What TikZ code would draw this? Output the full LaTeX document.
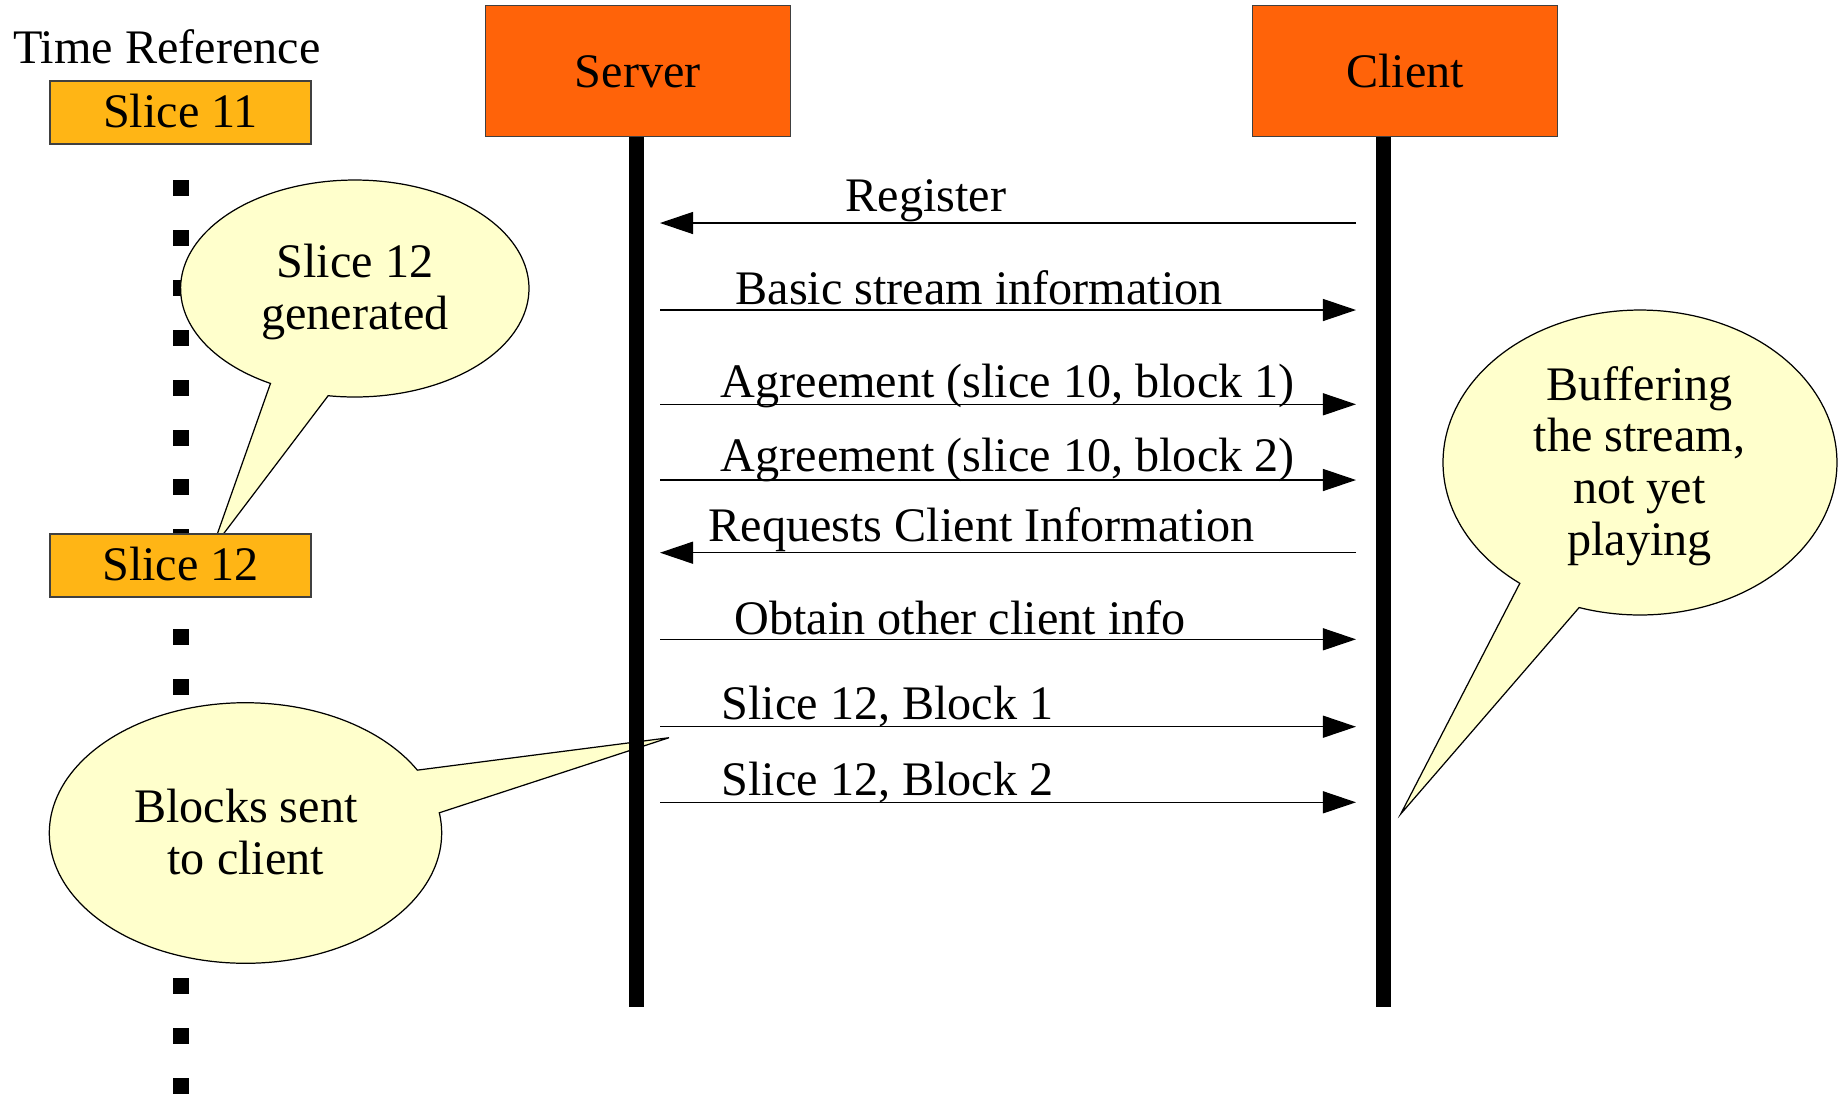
\documentclass[tikz,border=0pt]{standalone}
\usepackage{fontspec}
\setmainfont{Liberation Serif}
\usetikzlibrary{arrows.meta}
\definecolor{actorfill}{HTML}{FF6309}
\definecolor{slicefill}{HTML}{FFB515}
\definecolor{notefill}{HTML}{FFFFCC}

\begin{document}
\begin{tikzpicture}[x=0.01cm, y=-0.01cm,
  every node/.style={font=\fontsize{13.7pt}{14.65pt}\selectfont, inner sep=0pt},
  actor/.style={draw=black!75, line width=0.35pt, fill=actorfill,
    minimum width=3.05cm, minimum height=1.31cm, text height=0.35cm, text depth=0.02cm},
  slicebox/.style={draw=black!75, line width=0.35pt, fill=slicefill,
    minimum width=2.61cm, minimum height=0.63cm, text height=0.32cm, text depth=0.02cm},
  lifeline/.style={line width=0.15cm},
  msg/.style={line width=0.35pt, -{Triangle[length=0.33cm, width=0.22cm]}},
  msglabel/.style={anchor=base west},
  note/.style={draw=black, line width=0.35pt, fill=notefill},
  notetext/.style={anchor=base, align=center},
  tick/.style={fill=black}]

\useasboundingbox (0,0) rectangle (1841,1093);

% time axis: dotted column of squares
\foreach \k in {0,...,18}
  \fill[tick] (173,{180+49.9*\k}) rectangle ++(16,16);

% speech bubbles (ellipse with a pointed tail)
\draw[note] (212,549) -- plot[domain=118.95:458.8, samples=160, variable=\t]
  ({354.8+174.2*cos(\t)}, {288.5+108.5*sin(\t)}) -- cycle;
\draw[note] (669,737.7) -- plot[domain=-8.93:331.15, samples=160, variable=\t]
  ({245.5+196.2*cos(\t)}, {833+130.3*sin(\t)}) -- cycle;
\draw[note] (1400.7,814) -- plot[domain=127.6:468.0, samples=160, variable=\t]
  ({1640+197*cos(\t)}, {462.5+152.5*sin(\t)}) -- cycle;

% bubble texts, anchored at the baseline of their last line
\node[notetext] (genText) at (355,329) {Slice 12\\generated};
\node[notetext] (sentText) at (245.8,874.3) {Blocks sent\\to client};
\node[notetext] (bufText) at (1639.5,555) {Buffering\\the stream,\\not yet\\playing};

% time reference
\node[anchor=base west] (timeref) at (12.5,63) {Time Reference};
\node[slicebox] (slice11) at (180.5,112.5) {Slice 11};
\node[slicebox] (slice12) at (180.5,565.5) {Slice 12};

% participants and lifelines
\node[actor] (server) at (637.8,70.8) {Server};
\node[actor] (client) at (1405.2,70.8) {Client};
\coordinate (serverEnd) at (636.8,1006.5);
\coordinate (clientEnd) at (1383.5,1006.5);
\draw[lifeline] (serverEnd |- server.south) -- (serverEnd);
\draw[lifeline] (clientEnd |- client.south) -- (clientEnd);

% messages
\coordinate (s1) at (660,223);   \coordinate (c1) at (1356,223);
\coordinate (s2) at (660,310);   \coordinate (c2) at (1356,310);
\coordinate (s3) at (660,404.3); \coordinate (c3) at (1356,404.3);
\coordinate (s4) at (660,480);   \coordinate (c4) at (1356,480);
\coordinate (s5) at (660,552.7); \coordinate (c5) at (1356,552.7);
\coordinate (s6) at (660,639.3); \coordinate (c6) at (1356,639.3);
\coordinate (s7) at (660,726.7); \coordinate (c7) at (1356,726.7);
\coordinate (s8) at (660,802.3); \coordinate (c8) at (1356,802.3);

\draw[msg] (c1) -- (s1);
\draw[msg] (s2) -- (c2);
\draw[msg] (s3) -- (c3);
\draw[msg] (s4) -- (c4);
\draw[msg] (c5) -- (s5);
\draw[msg] (s6) -- (c6);
\draw[msg] (s7) -- (c7);
\draw[msg] (s8) -- (c8);

\node[msglabel] (m1) at (845,211.7) {Register};
\node[msglabel] (m2) at (735,304) {Basic stream information};
\node[msglabel] (m3) at (720,397.3) {Agreement (slice 10, block 1)};
\node[msglabel] (m4) at (720,471.7) {Agreement (slice 10, block 2)};
\node[msglabel] (m5) at (708,541.7) {Requests Client Information};
\node[msglabel] (m6) at (734,634) {Obtain other client info};
\node[msglabel] (m7) at (721,719.3) {Slice 12, Block 1};
\node[msglabel] (m8) at (721,795.7) {Slice 12, Block 2};
\end{tikzpicture}
\end{document}
